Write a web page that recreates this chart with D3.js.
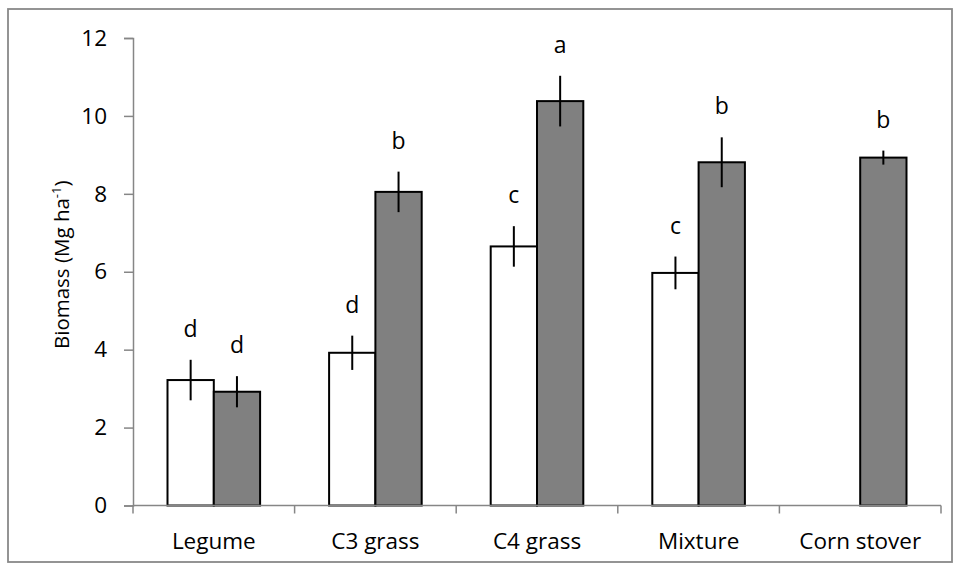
<!DOCTYPE html>
<html>
<head>
<meta charset="utf-8">
<script src="https://cdn.jsdelivr.net/npm/d3@7"></script>
<style>
  html, body { margin: 0; padding: 0; background: #fff; }
  svg { display: block; }
  text { font-family: "Open Sans", "Noto Sans", sans-serif; fill: #000; }
</style>
</head>
<body>
<svg id="chart" width="958" height="568"></svg>
<script>
// Biomass by cropping system (two bars per system; corn stover has one)
const categories = ["Legume", "C3 grass", "C4 grass", "Mixture", "Corn stover"];
const valuesA = [3.22, 3.92, 6.65, 5.97, null];   // open bars
const errorsA = [0.52, 0.44, 0.52, 0.42, null];
const lettersA = ["d", "d", "c", "c", null];
const valuesB = [2.92, 8.05, 10.38, 8.81, 8.93];  // grey bars
const errorsB = [0.40, 0.52, 0.65, 0.64, 0.18];
const lettersB = ["d", "b", "a", "b", "b"];
const yTicks = [0, 2, 4, 6, 8, 10, 12];

const svg = d3.select("#chart");
const W = 958, H = 568;
const margin = { left: 133, right: 17, top: 38, bottom: 62.5 };
const plotW = W - margin.left - margin.right;
const plotH = H - margin.top - margin.bottom;

// outer frame
svg.append("rect")
  .attr("x", 8).attr("y", 9).attr("width", 944).attr("height", 553)
  .attr("fill", "none").attr("stroke", "#898989").attr("stroke-width", 1.8);

const g = svg.append("g").attr("transform", `translate(${margin.left},${margin.top})`);

const x = d3.scaleBand().domain(categories).range([0, plotW]).paddingInner(0).paddingOuter(0);
const y = d3.scaleLinear().domain([0, 12]).range([plotH, 0]);
const barW = x.bandwidth() * 0.2865;

// rows: one per bar
const rows = [];
categories.forEach((c, i) => {
  if (valuesA[i] != null) rows.push({ cat: c, v: valuesA[i], e: errorsA[i], l: lettersA[i], side: -1, fill: "#ffffff" });
  if (valuesB[i] != null) rows.push({ cat: c, v: valuesB[i], e: errorsB[i], l: lettersB[i], side: 0, fill: "#808080" });
});
const cx = d => x(d.cat) + x.bandwidth() / 2;
const barX = d => cx(d) + d.side * barW;

// y axis
const yAxis = d3.axisLeft(y).tickValues(yTicks).tickSize(9).tickPadding(17).tickFormat(d3.format("d"));
const ya = g.append("g").call(yAxis);
ya.select(".domain").attr("stroke", "#868686").attr("stroke-width", 1.5);
ya.selectAll(".tick line").attr("stroke", "#868686").attr("stroke-width", 1.5);
ya.selectAll(".tick text").attr("font-size", 22.5).attr("font-family", "'Open Sans', sans-serif").attr("fill", "#000");

// bars
g.selectAll("rect.bar").data(rows).join("rect")
  .attr("class", "bar")
  .attr("x", d => barX(d))
  .attr("y", d => y(d.v))
  .attr("width", barW)
  .attr("height", d => y(0) - y(d.v))
  .attr("fill", d => d.fill)
  .attr("stroke", "#000")
  .attr("stroke-width", 2);

// x axis (drawn over bar bottoms)
const xAxis = d3.axisBottom(x).tickSize(0).tickPadding(28);
const xa = g.append("g").attr("transform", `translate(0,${plotH})`).call(xAxis);
xa.select(".domain").remove();
xa.append("line").attr("x1", 0).attr("x2", plotW).attr("y1", 0).attr("y2", 0)
  .attr("stroke", "#868686").attr("stroke-width", 1.5);
xa.selectAll(".boundary").data(d3.range(categories.length + 1)).join("line")
  .attr("class", "boundary")
  .attr("x1", i => i * x.bandwidth()).attr("x2", i => i * x.bandwidth())
  .attr("y1", 0).attr("y2", 8)
  .attr("stroke", "#868686").attr("stroke-width", 1.5);
xa.selectAll(".tick text").attr("font-size", 22.5).attr("font-family", "'Open Sans', sans-serif").attr("fill", "#000");

// error bars
g.selectAll("line.err").data(rows).join("line")
  .attr("class", "err")
  .attr("x1", d => barX(d) + barW / 2).attr("x2", d => barX(d) + barW / 2)
  .attr("y1", d => y(d.v + d.e)).attr("y2", d => y(d.v - d.e))
  .attr("stroke", "#000").attr("stroke-width", 2);

// significance letters
g.selectAll("text.letter").data(rows).join("text")
  .attr("class", "letter")
  .attr("x", d => barX(d) + barW / 2)
  .attr("y", d => y(d.v + d.e) - 23)
  .attr("text-anchor", "middle")
  .attr("font-size", 23)
  .text(d => d.l);

// y axis title
const title = svg.append("text")
  .attr("transform", `translate(69,${margin.top + plotH / 2 - 7}) rotate(-90)`)
  .attr("text-anchor", "middle")
  .attr("font-size", 20.5);
title.append("tspan").text("Biomass (Mg ha");
title.append("tspan").attr("font-size", 13).attr("dy", -8).text("-1");
title.append("tspan").attr("dy", 8).text(")");
</script>
</body>
</html>
